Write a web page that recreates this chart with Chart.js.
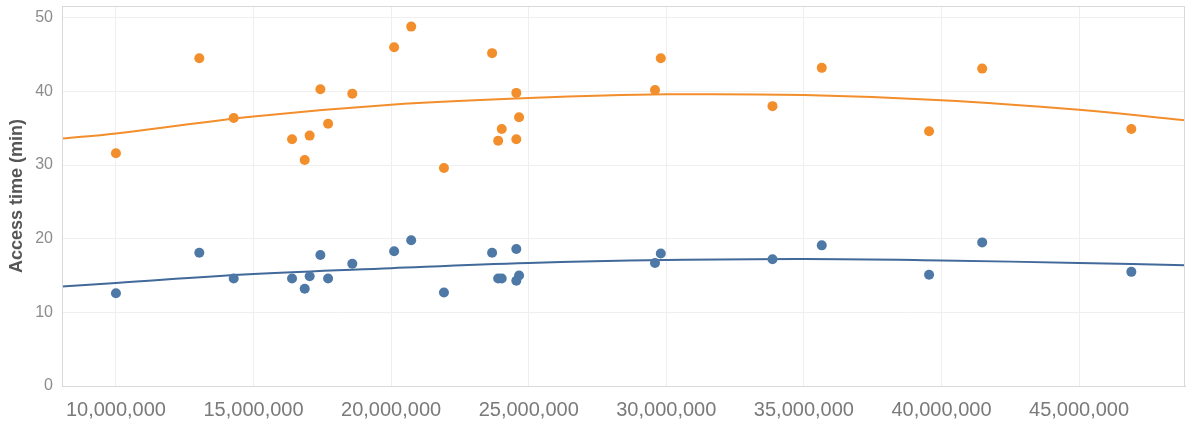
<!DOCTYPE html>
<html>
<head>
<meta charset="utf-8">
<script src="https://cdn.jsdelivr.net/npm/chart.js@4"></script>
<style>
  body { margin: 0; background: #fff; }
  canvas { display: block; }
</style>
</head>
<body>
<canvas id="access-chart" width="1191" height="421"></canvas>
<script>
// population of each city (x) and access times
const population = [10000000, 13030000, 14280000, 16400000, 16860000, 17040000, 17430000, 17710000, 18590000,
  20110000, 20730000, 21920000, 23670000, 23890000, 24020000, 24550000, 24550000, 24650000,
  29590000, 29800000, 33860000, 35650000, 39550000, 41480000, 46900000];
const orangeTimes = [31.6, 44.5, 36.4, 33.5, 30.7, 34.0, 40.3, 35.6, 39.7,
  46.0, 48.8, 29.6, 45.2, 33.3, 34.9, 39.8, 33.5, 36.5,
  40.2, 44.5, 38.0, 43.2, 34.6, 43.1, 34.9];
const blueTimes = [12.6, 18.1, 14.6, 14.6, 13.2, 14.9, 17.8, 14.6, 16.6,
  18.3, 19.8, 12.7, 18.1, 14.6, 14.6, 18.6, 14.3, 15.0,
  16.7, 18.0, 17.2, 19.1, 15.1, 19.5, 15.5];

// trend curves
const trendX = [8040000, 10000000, 15000000, 20000000, 25000000, 30000000, 35000000, 40000000, 45000000, 48850000];
const orangeTrend = [33.6, 34.3, 36.6, 38.2, 39.1, 39.6, 39.5, 38.8, 37.5, 36.1];
const blueTrend = [13.5, 14.0, 15.2, 16.0, 16.7, 17.1, 17.25, 17.05, 16.7, 16.4];

// axis ticks
const xTicks = [10000000, 15000000, 20000000, 25000000, 30000000, 35000000, 40000000, 45000000];
const yTicks = [0, 10, 20, 30, 40, 50];

const yTitle = 'Access time (min)';

const ORANGE = '#f28e2b';
const BLUE = '#4e79a7';

const toPoints = (xs, ys) => xs.map((x, i) => ({ x: x, y: ys[i] }));

// light frame round the plot area
const framePlugin = {
  id: 'frame',
  afterDraw(chart) {
    const a = chart.chartArea;
    const ctx = chart.ctx;
    ctx.save();
    ctx.strokeStyle = '#d9d9d9';
    ctx.lineWidth = 1;
    ctx.strokeRect(a.left + 0.5, a.top + 0.5, a.right - a.left - 1, a.bottom - a.top);
    ctx.restore();
  }
};

const ctx = document.getElementById('access-chart');

const myChart = new Chart(ctx, {
  type: 'scatter',
  data: {
    datasets: [
      {
        label: 'orange',
        data: toPoints(population, orangeTimes),
        backgroundColor: ORANGE,
        pointRadius: 5,
        pointBorderWidth: 0
      },
      {
        label: 'blue',
        data: toPoints(population, blueTimes),
        backgroundColor: BLUE,
        pointRadius: 5,
        pointBorderWidth: 0
      },
      {
        label: 'orange trend',
        data: toPoints(trendX, orangeTrend),
        showLine: true,
        borderColor: ORANGE,
        borderWidth: 2,
        pointRadius: 0,
        tension: 0.4
      },
      {
        label: 'blue trend',
        data: toPoints(trendX, blueTrend),
        showLine: true,
        borderColor: '#41699a',
        borderWidth: 2,
        pointRadius: 0,
        tension: 0.4
      }
    ]
  },
  options: {
    responsive: false,
    animation: false,
    devicePixelRatio: 1,
    layout: { padding: { top: 6, right: 6, left: 0, bottom: 0 } },
    plugins: {
      legend: { display: false },
      tooltip: { enabled: false }
    },
    scales: {
      x: {
        type: 'linear',
        min: 8040000,
        max: 48850000,
        afterBuildTicks: (axis) => { axis.ticks = xTicks.map(v => ({ value: v })); },
        afterFit: (axis) => {
          axis.height = 35;
          axis.paddingLeft = 0;
          axis.paddingRight = 0;
        },
        border: { color: '#d9d9d9' },
        grid: { color: '#efefef', drawTicks: false },
        ticks: {
          autoSkip: false,
          maxRotation: 0,
          padding: 12,
          color: '#7a7a7a',
          font: { family: 'Liberation Sans, Arial, sans-serif', size: 20 },
          callback: (value) => value.toLocaleString('en-US')
        }
      },
      y: {
        min: 0,
        max: 51.6,
        afterBuildTicks: (axis) => { axis.ticks = yTicks.map(v => ({ value: v })); },
        afterFit: (axis) => {
          axis.width = 62;
          axis.paddingTop = 0;
          axis.paddingBottom = 0;
        },
        border: { color: '#d9d9d9' },
        grid: { color: '#efefef', drawTicks: false },
        title: {
          display: true,
          text: yTitle,
          color: '#555555',
          padding: { top: 6, bottom: 0 },
          font: { family: 'Liberation Sans, Arial, sans-serif', size: 18, weight: 'bold' }
        },
        ticks: {
          padding: 9,
          color: '#8c8c8c',
          font: { family: 'Liberation Sans, Arial, sans-serif', size: 16 }
        }
      }
    }
  },
  plugins: [framePlugin]
});
</script>
</body>
</html>
